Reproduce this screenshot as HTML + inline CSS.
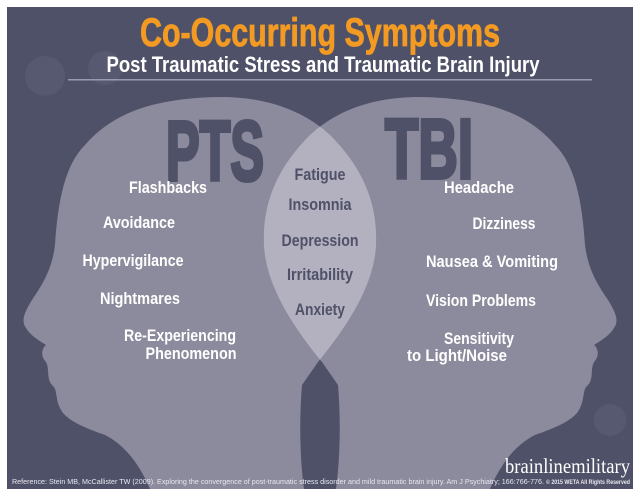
<!DOCTYPE html>
<html><head><meta charset="utf-8"><style>
html,body{margin:0;padding:0;background:#fff;width:640px;height:496px;overflow:hidden}
svg{display:block}
text{font-family:"Liberation Sans",sans-serif;font-weight:bold}
</style></head><body>
<svg width="640" height="496" viewBox="0 0 640 496" xmlns="http://www.w3.org/2000/svg">
<defs>
<path id="lh" d="M150,489 C140,465 125,445 105,435 C85,428 65,420 60,408 C55,398 58,390 52,385 C46,378 50,370 46,362 C40,356 42,348 46,345 C38,340 30,335 26,328 C20,320 26,310 32,300 C42,285 52,270 55,245 C58,200 65,165 85,145 C115,110 160,98 220,97 C270,97 305,112 330,135 C360,165 378,200 376,245 C374,290 340,335 318,362 L302,385 C299,420 300,460 304,489 Z"/>
<clipPath id="lc"><use href="#lh"/></clipPath>
</defs>
<rect x="7" y="7" width="626" height="482" fill="#4f5168"/>
<circle cx="45" cy="76" r="20" fill="#5e5f76" opacity="0.6"/>
<circle cx="105" cy="68" r="17" fill="#5e5f76" opacity="0.6"/>
<circle cx="610" cy="420" r="16" fill="#5e5f76" opacity="0.6"/>
<use href="#lh" fill="#8c8b9e"/>
<use href="#lh" fill="#8c8b9e" transform="translate(640,0) scale(-1,1)"/>
<g clip-path="url(#lc)"><use href="#lh" fill="#b3b1c0" transform="translate(640,0) scale(-1,1)"/></g>
<text x="320" y="46" text-anchor="middle" font-size="40" fill="#f39a23" stroke="#f39a23" stroke-width="0.8" textLength="360" lengthAdjust="spacingAndGlyphs">Co-Occurring Symptoms</text>
<text x="323" y="72" text-anchor="middle" font-size="22" fill="#fff" textLength="433" lengthAdjust="spacingAndGlyphs">Post Traumatic Stress and Traumatic Brain Injury</text>
<rect x="68" y="79" width="524" height="1.5" fill="#9a9aae"/>
<text x="215" y="180" text-anchor="middle" font-size="84" fill="#4f5168" stroke="#4f5168" stroke-width="4" textLength="98" lengthAdjust="spacingAndGlyphs">PTS</text>
<text x="429" y="178" text-anchor="middle" font-size="84" fill="#4f5168" stroke="#4f5168" stroke-width="4" textLength="88" lengthAdjust="spacingAndGlyphs">TBI</text>
<g fill="#fff" font-size="17" text-anchor="middle">
<text x="168" y="193" textLength="78" lengthAdjust="spacingAndGlyphs">Flashbacks</text>
<text x="139" y="228" textLength="72" lengthAdjust="spacingAndGlyphs">Avoidance</text>
<text x="133" y="266" textLength="101" lengthAdjust="spacingAndGlyphs">Hypervigilance</text>
<text x="140" y="304" textLength="80" lengthAdjust="spacingAndGlyphs">Nightmares</text>
<text x="180" y="341" textLength="112" lengthAdjust="spacingAndGlyphs">Re-Experiencing</text>
<text x="191" y="359" textLength="91" lengthAdjust="spacingAndGlyphs">Phenomenon</text>
<text x="479" y="193" textLength="70" lengthAdjust="spacingAndGlyphs">Headache</text>
<text x="504" y="229" textLength="63" lengthAdjust="spacingAndGlyphs">Dizziness</text>
<text x="492" y="267" textLength="132" lengthAdjust="spacingAndGlyphs">Nausea &amp; Vomiting</text>
<text x="481" y="306" textLength="110" lengthAdjust="spacingAndGlyphs">Vision Problems</text>
<text x="479" y="344" textLength="70" lengthAdjust="spacingAndGlyphs">Sensitivity</text>
<text x="457" y="361" textLength="100" lengthAdjust="spacingAndGlyphs">to Light/Noise</text>
</g>
<g fill="#4f5168" font-size="17" text-anchor="middle">
<text x="320" y="180" textLength="51" lengthAdjust="spacingAndGlyphs">Fatigue</text>
<text x="320" y="210" textLength="63" lengthAdjust="spacingAndGlyphs">Insomnia</text>
<text x="320" y="246" textLength="77" lengthAdjust="spacingAndGlyphs">Depression</text>
<text x="320" y="280" textLength="66" lengthAdjust="spacingAndGlyphs">Irritability</text>
<text x="320" y="315" textLength="50" lengthAdjust="spacingAndGlyphs">Anxiety</text>
</g>
<text x="12" y="484" font-size="7" fill="#e8e8f0" textLength="532" lengthAdjust="spacingAndGlyphs" style="font-weight:normal">Reference: Stein MB, McCallister TW (2009). Exploring the convergence of post-traumatic stress disorder and mild traumatic brain injury. Am J Psychiatry; 166:766-776.</text>
<text x="546" y="484" font-size="6.5" fill="#e8e8f0" textLength="84" lengthAdjust="spacingAndGlyphs">© 2015 WETA All Rights Reserved</text>
<text x="505" y="473" font-size="21" fill="#fff" textLength="125" lengthAdjust="spacingAndGlyphs" style="font-family:'Liberation Serif',serif;font-weight:normal">brainlinemilitary</text>
</svg>
</body></html>
